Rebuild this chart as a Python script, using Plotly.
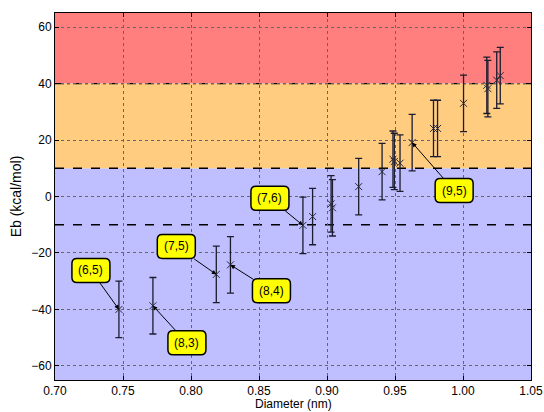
import plotly.graph_objects as go

# ---- data ----
diameter = [0.747, 0.772, 0.8186, 0.829, 0.8823, 0.8894, 0.903, 0.904, 0.9233,
            0.9405, 0.9485, 0.9495, 0.9537, 0.9626, 0.9783, 0.9813, 1.0004,
            1.0175, 1.0183, 1.0248, 1.0274]
eb = [-40.0, -38.7, -27.6, -24.2, -10.2, -7.1, -2.6, -4.0, 3.5,
      8.8, 13.2, 12.4, 11.8, 19.1, 24.1, 24.1, 33.0,
      39.4, 38.2, 41.2, 42.8]
eb_err = [10, 10, 10, 10, 10, 10, 10, 10, 10,
          10, 10, 10, 10, 10, 10, 10, 10,
          10, 10, 10, 10]

label_text = ["(6,5)", "(8,3)", "(7,5)", "(8,4)", "(7,6)", "(9,5)"]
label_x = [0.747, 0.772, 0.8186, 0.829, 0.8823, 0.9626]
label_y = [-40.0, -38.7, -27.6, -24.2, -10.2, 19.1]

band_edges = [-65, 10, 40, 65]
line_levels = [40, 10, -10]

x_range = [0.70, 1.05]
y_range = [-65, 65]
y_ticks = [-60, -40, -20, 0, 20, 40, 60]

x_title = "Diameter (nm)"
y_title = "Eb (kcal/mol)"

# ---- styling / layout ----
band_colors = ["#BFBFFF", "#FFCC80", "#FF7F7F"]
line_dashes = ["dashdot", "dash", "dash"]
label_offsets = [(-28, -39), (34, 37), (-40, -28), (41, 26), (-33, -27), (42, 48)]  # pixel offsets
BOX_W, BOX_H, BOX_R = 38, 24, 5
FONT = "Liberation Sans, Arial, sans-serif"

fig = go.Figure()

fig.add_trace(go.Scatter(
    x=diameter, y=eb, mode="markers",
    marker=dict(symbol="x-thin", size=7, line=dict(width=1, color="#2a2a3a"), color="#2a2a3a"),
    error_y=dict(type="data", array=eb_err, visible=True, color="#1c1c30", thickness=1.3, width=3.5),
    showlegend=False,
))

shapes = []
for i, c in enumerate(band_colors):
    shapes.append(dict(type="rect", xref="paper", yref="y", x0=0, x1=1,
                       y0=band_edges[i], y1=band_edges[i + 1],
                       fillcolor=c, line=dict(width=0), layer="below"))
for lv, d in zip(line_levels, line_dashes):
    shapes.append(dict(type="line", xref="paper", yref="y", x0=0, x1=1, y0=lv, y1=lv,
                       line=dict(color="black", width=1.3, dash=d), layer="between"))


def rounded_path(cx, cy, w, h, r):
    x0, x1 = cx - w / 2, cx + w / 2
    y0, y1 = cy - h / 2, cy + h / 2
    return (f"M{x0 + r},{y0} L{x1 - r},{y0} Q{x1},{y0} {x1},{y0 + r} "
            f"L{x1},{y1 - r} Q{x1},{y1} {x1 - r},{y1} L{x0 + r},{y1} "
            f"Q{x0},{y1} {x0},{y1 - r} L{x0},{y0 + r} Q{x0},{y0} {x0 + r},{y0} Z")


annotations = []
for t, x, y, (ax, ay) in zip(label_text, label_x, label_y, label_offsets):
    shapes.append(dict(type="path", xref="x", yref="y", xsizemode="pixel", ysizemode="pixel",
                       xanchor=x, yanchor=y, path=rounded_path(ax, -ay, BOX_W, BOX_H, BOX_R),
                       fillcolor="#FFFF00", line=dict(color="black", width=1.5), layer="above"))
    annotations.append(dict(x=x, y=y, xref="x", yref="y", text=t, showarrow=True,
                            ax=ax, ay=ay, arrowhead=2, arrowsize=0.9, arrowwidth=1,
                            arrowcolor="black", borderpad=5, borderwidth=1,
                            bordercolor="rgba(0,0,0,0)",
                            font=dict(family=FONT, size=12, color="black")))

# x-axis title placed just below the tick labels
annotations.append(dict(x=0.5, y=0, xref="paper", yref="paper", text=x_title,
                        showarrow=False, xanchor="center", yanchor="top", yshift=-16,
                        borderpad=0, font=dict(family=FONT, size=12, color="black")))

axis_common = dict(showgrid=True, gridcolor="#666666", griddash="dot", gridwidth=1,
                   showline=True, linecolor="black", linewidth=1, mirror="ticks",
                   ticks="inside", ticklen=4, tickcolor="black", zeroline=False,
                   automargin=False)

fig.update_layout(
    width=544, height=412,
    margin=dict(l=55, r=13, t=13, b=32),
    paper_bgcolor="white", plot_bgcolor="white",
    font=dict(family=FONT, size=12, color="black"),
    shapes=shapes, annotations=annotations,
    xaxis=dict(range=x_range, dtick=0.05, tick0=0.70, tickformat=".2f", **axis_common),
    yaxis=dict(range=y_range, tickvals=y_ticks,
               title=dict(text=y_title, standoff=6), **axis_common),
)

fig.write_html("out.html")
